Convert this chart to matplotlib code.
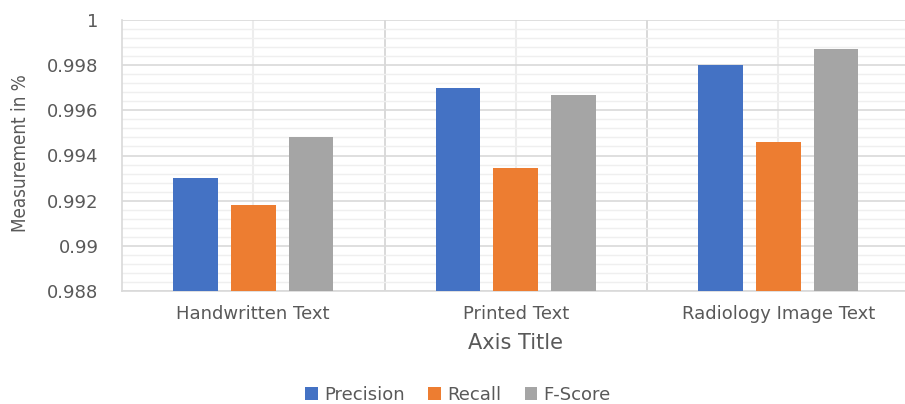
import numpy as np
import matplotlib
matplotlib.use("Agg")
import matplotlib.pyplot as plt
from matplotlib.ticker import MultipleLocator, FixedLocator
from matplotlib import font_manager

categories = ["Handwritten Text", "Printed Text", "Radiology Image Text"]
series_names = ["Precision", "Recall", "F-Score"]
precision = [0.9930, 0.9970, 0.9980]
recall = [0.9918, 0.99345, 0.9946]
fscore = [0.9948, 0.9967, 0.9987]
ytick_values = [0.988, 0.990, 0.992, 0.994, 0.996, 0.998, 1.000]
ytick_labels = ["0.988", "0.99", "0.992", "0.994", "0.996", "0.998", "1"]
colors = ["#4472C4", "#ED7D31", "#A5A5A5"]

TXT = "#595959"
installed = {f.name for f in font_manager.fontManager.ttflist}
narrow = "Liberation Sans Narrow" if "Liberation Sans Narrow" in installed else None

fig = plt.figure(figsize=(9.05, 4.04), dpi=100)
W, H = 905, 404
left_px, right_px, top_px, bot_px = 122, 909.5, 20, 291
ax = fig.add_axes([left_px / W, 1 - bot_px / H, (right_px - left_px) / W, (bot_px - top_px) / H])

x = np.arange(len(categories))
width = 0.171
offset = 0.22
for i, (vals, name) in enumerate(zip([precision, recall, fscore], series_names)):
    ax.bar(x + (i - 1) * offset, vals, width=width, color=colors[i], label=name, zorder=3)

ax.set_xlim(-0.5, len(categories) - 0.5)
ax.set_ylim(ytick_values[0], ytick_values[-1])

ax.yaxis.set_major_locator(FixedLocator(ytick_values))
ax.set_yticklabels(ytick_labels)
ax.yaxis.set_minor_locator(MultipleLocator(0.0004))
ax.set_xticks(x)
ax.set_xticklabels(categories)
ax.xaxis.set_minor_locator(FixedLocator(x[:-1] + 0.5))

ax.grid(axis="y", which="major", color="#d9d9d9", linewidth=1.2, zorder=0)
ax.grid(axis="y", which="minor", color="#efefef", linewidth=1.0, zorder=0)
ax.grid(axis="x", which="major", color="#ededed", linewidth=1.5, zorder=0)
ax.grid(axis="x", which="minor", color="#d9d9d9", linewidth=1.4, zorder=0)
ax.set_axisbelow(True)

for s in ["top", "right"]:
    ax.spines[s].set_visible(False)
ax.spines["left"].set_color("#d9d9d9")
ax.spines["bottom"].set_color("#d9d9d9")
ax.spines["left"].set_linewidth(1.2)
ax.spines["bottom"].set_linewidth(1.2)

ax.tick_params(axis="y", which="both", length=0, pad=17, labelsize=13, labelcolor=TXT)
ax.tick_params(axis="x", which="both", length=0, pad=10, labelsize=13, labelcolor=TXT)
for lab in ax.get_xticklabels() + ax.get_yticklabels():
    lab.set_fontfamily("DejaVu Sans")

ax.set_xlabel("Axis Title", fontsize=15, color=TXT, family="DejaVu Sans", va="center")
ax.xaxis.set_label_coords(0.5, (bot_px - 343) / (bot_px - top_px))

if narrow:
    ax.set_ylabel("Measurement in %", fontsize=16, color=TXT, family=narrow, va="center")
else:
    ax.set_ylabel("Measurement in %", fontsize=13.5, color=TXT, family="DejaVu Sans",
                  fontstretch="condensed", va="center")
ax.yaxis.set_label_coords((20 - left_px) / (right_px - left_px), 0.51)

leg = fig.legend(loc="center", bbox_to_anchor=(458 / W, 1 - 395 / H), ncol=3, frameon=False,
                 prop={"family": "DejaVu Sans", "size": 13}, handlelength=0.7, handleheight=0.7,
                 handletextpad=0.35, columnspacing=1.3, borderaxespad=0)
for t in leg.get_texts():
    t.set_color(TXT)

fig.savefig("out.png", dpi=100)
